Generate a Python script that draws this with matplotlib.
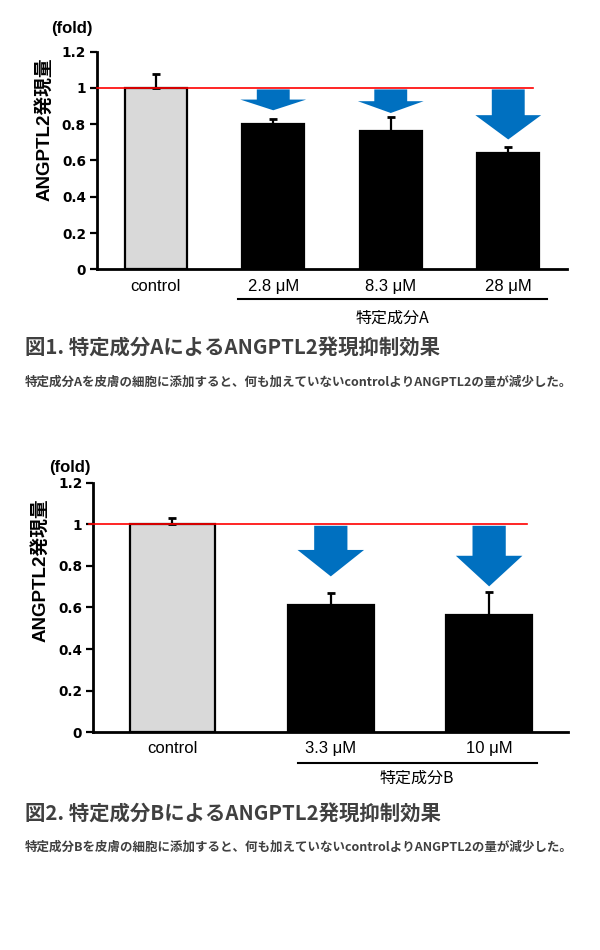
import matplotlib
matplotlib.use("Agg")
import matplotlib.pyplot as plt
from matplotlib.patches import Polygon

plt.rcParams['font.family'] = ['Liberation Sans', 'Noto Sans CJK JP']

# ---------------- data ----------------
cats_a = ["control", "2.8 μM", "8.3 μM", "28 μM"]
vals_a = [1.0, 0.80, 0.762, 0.642]
errs_a = [0.079, 0.028, 0.078, 0.033]
arrow_base_a = [0.936, 0.927, 0.85]      # arrow head base (bars 1..3)
arrow_tip_a = [0.877, 0.862, 0.716]

cats_b = ["control", "3.3 μM", "10 μM"]
vals_b = [1.0, 0.612, 0.565]
errs_b = [0.029, 0.056, 0.108]
arrow_base_b = [0.876, 0.848]
arrow_tip_b = [0.749, 0.701]

yticks = [0, 0.2, 0.4, 0.6, 0.8, 1.0, 1.2]
ytick_labels = ["0", "0.2", "0.4", "0.6", "0.8", "1", "1.2"]
group_label_a = "特定成分A"
group_label_b = "特定成分B"
title_a = "図1. 特定成分AによるANGPTL2発現抑制効果"
sub_a = "特定成分Aを皮膚の細胞に添加すると、何も加えていないcontrolよりANGPTL2の量が減少した。"
title_b = "図2. 特定成分BによるANGPTL2発現抑制効果"
sub_b = "特定成分Bを皮膚の細胞に添加すると、何も加えていないcontrolよりANGPTL2の量が減少した。"
ylabel = "ANGPTL2発現量"

W, H = 600, 950
fig = plt.figure(figsize=(6, 9.5), dpi=100)

ARROW_COLOR = "#0070C0"
TXT_GRAY = "#404040"


def px_axes(left, right, top, bottom):
    return fig.add_axes([left / W, 1 - bottom / H, (right - left) / W, (bottom - top) / H])


def draw_chart(ax, cats, vals, errs, abase, atip, width, shaft_w, head_w, red_x, bracket, glabel, pad):
    n = len(cats)
    x = list(range(n))
    colors = ["#d9d9d9"] + ["black"] * (n - 1)
    ax.bar(x, vals, width=width, color=colors, edgecolor="black", linewidth=1.6, zorder=2)
    ax.errorbar(x, vals, yerr=[[0] * n, errs], fmt="none", ecolor="black",
                elinewidth=1.6, capsize=3, capthick=2, zorder=3)
    ax.plot(red_x, [1.0, 1.0], color="red", lw=1.2, zorder=4, clip_on=False)
    for i, (b, t) in enumerate(zip(abase, atip), start=1):
        top = 0.992
        pts = [(i - shaft_w / 2, top), (i + shaft_w / 2, top), (i + shaft_w / 2, b),
               (i + head_w / 2, b), (i, t), (i - head_w / 2, b), (i - shaft_w / 2, b)]
        ax.add_patch(Polygon(pts, closed=True, facecolor=ARROW_COLOR, edgecolor="none", zorder=3))
    ax.set_xlim(-0.5, n - 0.5)
    ax.set_ylim(0, 1.2)
    ax.set_yticks(yticks)
    ax.set_yticklabels(ytick_labels, fontweight="bold", fontsize=9.8, family=["DejaVu Sans"])
    ax.set_xticks(x)
    ax.set_xticklabels(cats, fontsize=12)
    ax.tick_params(axis="x", length=0, pad=pad)
    ax.tick_params(axis="y", length=5, width=1.6, direction="out", pad=3)
    for s in ["top", "right"]:
        ax.spines[s].set_visible(False)
    for s in ["left", "bottom"]:
        ax.spines[s].set_linewidth(2)
    bx0, bx1, by, ly = bracket
    ax.plot([bx0, bx1], [by, by], color="black", lw=1.5, clip_on=False)
    ax.text((bx0 + bx1) / 2, ly, glabel, ha="center", va="center", fontsize=11.5,
            family=["Noto Sans CJK JP"], clip_on=False)


# chart 1
ax1 = px_axes(97, 567, 51.7, 269.3)
draw_chart(ax1, cats_a, vals_a, errs_a, arrow_base_a, arrow_tip_a,
           width=0.53, shaft_w=0.28, head_w=0.56, red_x=[-0.5, 3.21],
           bracket=(0.70, 3.33, -0.164, -0.27), glabel=group_label_a, pad=7)
fig.text(72 / W, 1 - 29 / H, "(fold)", ha="center", va="center", fontsize=12, fontweight="bold")
fig.text(44 / W, 1 - 129 / H, ylabel, ha="center", va="center", rotation=90,
         fontsize=13.5, fontweight="bold")

# chart 2
ax2 = px_axes(93.3, 568.3, 482.5, 732.3)
draw_chart(ax2, cats_b, vals_b, errs_b, arrow_base_b, arrow_tip_b,
           width=0.54, shaft_w=0.21, head_w=0.42, red_x=[-0.53, 2.24],
           bracket=(0.79, 2.30, -0.147, -0.22), glabel=group_label_b, pad=6)
fig.text(70 / W, 1 - 467 / H, "(fold)", ha="center", va="center", fontsize=12, fontweight="bold")
fig.text(40 / W, 1 - 570 / H, ylabel, ha="center", va="center", rotation=90,
         fontsize=13.5, fontweight="bold")

# captions
cjk = ["Noto Sans CJK JP", "DejaVu Sans"]
fig.text(25 / W, 1 - 348 / H, title_a, ha="left", va="center", fontsize=14.7,
         fontweight="bold", color=TXT_GRAY, family=cjk)
fig.text(25 / W, 1 - 382 / H, sub_a, ha="left", va="center", fontsize=9,
         fontweight="bold", color=TXT_GRAY, family=cjk)
fig.text(25 / W, 1 - 814 / H, title_b, ha="left", va="center", fontsize=14.7,
         fontweight="bold", color=TXT_GRAY, family=cjk)
fig.text(25 / W, 1 - 847 / H, sub_b, ha="left", va="center", fontsize=9,
         fontweight="bold", color=TXT_GRAY, family=cjk)

fig.savefig("out.png", dpi=100, facecolor="white")
